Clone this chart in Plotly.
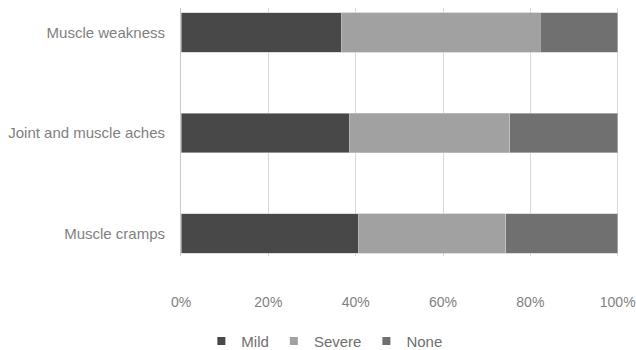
import plotly.graph_objects as go

categories = ["Muscle cramps", "Joint and muscle aches", "Muscle weakness"]
mild = [40.7, 38.6, 36.7]
severe = [33.7, 36.7, 45.6]
none = [25.6, 24.7, 17.7]
series_names = ["Mild", "Severe", "None"]
series_colors = ["#484848", "#a1a1a1", "#707070"]
tick_vals = [0, 20, 40, 60, 80, 100]
tick_text = ["0%", "20%", "40%", "60%", "80%", "100%"]

fig = go.Figure()
for name, vals, col in zip(series_names, [mild, severe, none], series_colors):
    fig.add_trace(go.Bar(
        y=categories, x=vals, name=name, orientation="h",
        marker=dict(color=col, line=dict(color="#c8c8c8", width=0.6)),
        width=0.393, showlegend=False,
    ))
for name, col in zip(series_names, series_colors):
    fig.add_trace(go.Scatter(
        x=[None], y=[None], mode="markers", name=name,
        marker=dict(symbol="square", size=8, color=col),
        showlegend=True,
    ))

fig.update_layout(
    width=636, height=350,
    margin=dict(l=181, r=17, t=8, b=94, autoexpand=False),
    barmode="stack",
    plot_bgcolor="white", paper_bgcolor="white",
    font=dict(family="Liberation Sans, Arial, sans-serif", color="#7f7f7f"),
    legend=dict(
        orientation="h", xref="container", yref="container",
        x=0.51, xanchor="center", y=0.025, yanchor="middle",
        font=dict(size=15, color="#6f6f6f"),
        itemwidth=30, tracegroupgap=0, traceorder="normal",
    ),
    xaxis=dict(
        range=[0, 100.3], tickvals=tick_vals, ticktext=tick_text,
        showgrid=True, gridcolor="#d9d9d9", gridwidth=1,
        zeroline=False, showline=False, automargin=False,
        ticks="outside", ticklen=33, tickcolor="rgba(0,0,0,0)",
        tickfont=dict(size=14, color="#808080"),
    ),
    yaxis=dict(
        type="category", categoryorder="array", categoryarray=categories,
        range=[-0.224, 2.244], automargin=False,
        showline=True, linecolor="#c8c8c8", linewidth=1,
        showgrid=False, zeroline=False,
        ticks="outside", ticklen=12, tickcolor="rgba(0,0,0,0)",
        tickfont=dict(size=15, color="#7f7f7f"),
    ),
)

fig.write_html("out.html")
